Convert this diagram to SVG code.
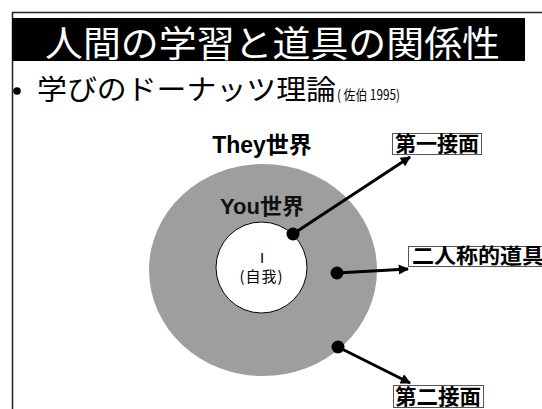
<svg xmlns="http://www.w3.org/2000/svg" width="542" height="409" viewBox="0 0 542 409">
<defs>
<style>
.jp{font-family:"Noto Sans CJK JP","Liberation Sans",sans-serif;}
.lat{font-family:"Liberation Sans","Noto Sans CJK JP",sans-serif;}
.box{fill:#fff;stroke:#555;stroke-width:1;}
.lbl{font-family:"Noto Sans CJK JP",sans-serif;font-weight:bold;font-size:21px;fill:#000;}
.conn{stroke:#000;stroke-width:3;fill:none;marker-end:url(#ah);}
.dot{fill:#000;}
</style>
<marker id="ah" viewBox="0 0 10 10" refX="9" refY="5" markerWidth="4" markerHeight="3.4" orient="auto">
<path d="M0,0 L10,5 L0,10 z" fill="#000"/>
</marker>
</defs>
<rect width="542" height="409" fill="#fff"/>
<!-- frame -->
<path d="M12.5,409 V12.5 H542" fill="none" stroke="#222" stroke-width="1.5"/>
<!-- title -->
<g id="title">
<rect x="12" y="18" width="513" height="43" fill="#000"/>
<text class="jp" x="45" y="57" font-size="36" fill="#fff" textLength="455" lengthAdjust="spacingAndGlyphs">人間の学習と道具の関係性</text>
</g>
<g id="subtitle">
<circle cx="17" cy="91" r="3.8" fill="#000"/>
<text class="jp" x="37" y="100" font-size="28" fill="#000" textLength="299" lengthAdjust="spacingAndGlyphs">学びのドーナッツ理論</text>
<text class="jp" x="337" y="100" font-size="14" fill="#000" textLength="63" lengthAdjust="spacingAndGlyphs">( 佐伯  1995)</text>
</g>
<!-- donut -->
<g id="they">
<text class="lat" x="262" y="153" font-size="23" font-weight="bold" text-anchor="middle" fill="#000">They世界</text>
</g>
<g id="you">
<ellipse cx="263" cy="270" rx="114" ry="106" fill="#9e9e9e"/>
<text class="lat" x="262" y="214" font-size="22" font-weight="bold" text-anchor="middle" fill="#111">You世界</text>
</g>
<g id="self">
<circle cx="261.5" cy="267.5" r="45.5" fill="#fff" stroke="#000" stroke-width="1"/>
<text class="lat" x="262" y="263" font-size="15" text-anchor="middle" fill="#000">I</text>
<text class="jp" x="261" y="282" font-size="15" text-anchor="middle" fill="#000" textLength="43" lengthAdjust="spacing">(自我)</text>
</g>
<!-- connectors -->
<g id="connectors">
<line class="conn" x1="293" y1="234" x2="410" y2="157"/>
<line class="conn" x1="337" y1="273" x2="408" y2="269"/>
<line class="conn" x1="338" y1="347" x2="410" y2="383"/>
<circle class="dot" cx="293" cy="234" r="6.5"/>
<circle class="dot" cx="337" cy="273" r="6.5"/>
<circle class="dot" cx="338" cy="347" r="6.5"/>
</g>
<g id="first">
<rect class="box" x="392.5" y="133.5" width="89" height="21"/>
<text class="lbl" x="437" y="151" text-anchor="middle" textLength="84" lengthAdjust="spacingAndGlyphs">第一接面</text>
</g>
<g id="second-person">
<rect class="box" x="408.5" y="246.5" width="140" height="20"/>
<text class="lbl" x="412" y="263" textLength="132" lengthAdjust="spacingAndGlyphs">二人称的道具</text>
</g>
<g id="second">
<rect class="box" x="393.5" y="385.5" width="90" height="22"/>
<text class="lbl" x="438" y="404" text-anchor="middle" textLength="86" lengthAdjust="spacingAndGlyphs">第二接面</text>
</g>
</svg>
